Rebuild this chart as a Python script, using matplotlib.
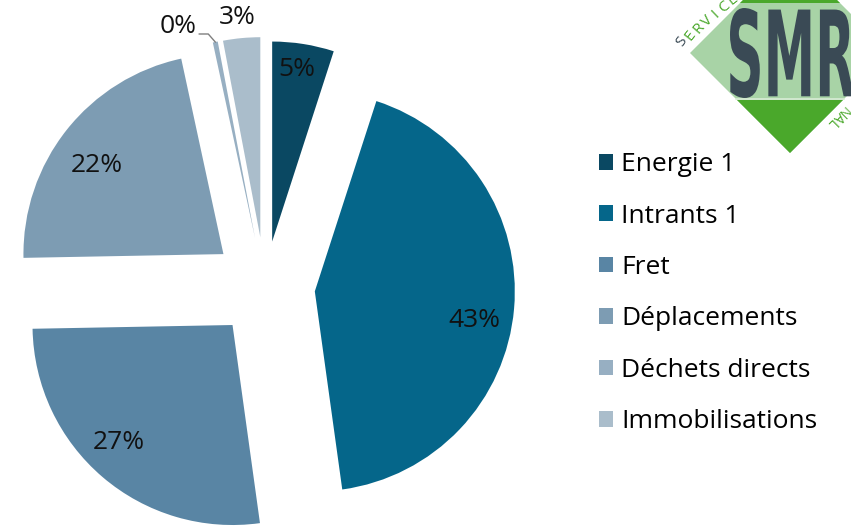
import matplotlib
matplotlib.use('Agg')
import numpy as np
import matplotlib.pyplot as plt
from matplotlib.patches import Polygon, PathPatch
from matplotlib.textpath import TextPath
from matplotlib.font_manager import FontProperties
from matplotlib.transforms import Affine2D

labels = ['Energie 1', 'Intrants 1', 'Fret', 'Déplacements', 'Déchets directs', 'Immobilisations']
values = [5.0, 43.0, 27.0, 22.0, 0.4, 3.0]
colors = ['#0a4862', '#05668a', '#5985a4', '#7d9cb3', '#97afc2', '#aabdcb']

plt.rcParams['font.family'] = ['Open Sans', 'DejaVu Sans']

fig = plt.figure(figsize=(8.51, 5.31), dpi=100)
ax = fig.add_axes([0, 0, 1, 1])

# pie drawn in pixel-like data units (y up)
cx, cy, r = 265, 244, 200
explode = [46, 50, 50, 53, 50, 50]
wedges, _ = ax.pie(values, colors=colors, startangle=90, counterclock=False,
                   center=(cx, cy), radius=r, explode=explode, frame=True)
ax.set_xlim(0, 851)
ax.set_ylim(0, 531)
ax.axis('off')

total = sum(values)
label_dist = [0.86, 0.8, 0.8, 0.79, None, 1.11]
label_nudge = [(-2, 2), (0, -15), (-10, 4), (-3, -9), None, (-2, -1)]
for w, v, f, nd in zip(wedges, values, label_dist, label_nudge):
    th = np.deg2rad((w.theta1 + w.theta2) / 2)
    x0, y0 = w.center
    txt = '%d%%' % round(100 * v / total)
    if f is None:
        # tiny slice: label with leader line
        tx, ty = x0 + r * np.cos(th), y0 + r * np.sin(th)
        ax.plot([tx, tx - 7, tx - 16], [ty, ty + 8, ty + 8], color='#7f7f7f', lw=1)
        ax.text(tx - 19, ty + 15, txt, ha='right', va='center', fontsize=19, color='#111111')
        continue
    ax.text(x0 + f * r * np.cos(th) + nd[0], y0 + f * r * np.sin(th) + nd[1], txt,
            ha='center', va='center', fontsize=19, color='#111111')

ax.legend(wedges, labels, loc='upper left', bbox_to_anchor=(586 / 851, 1 - 139 / 531),
          frameon=False, fontsize=19, handlelength=0.53, handleheight=0.53,
          handletextpad=0.3, labelspacing=1.0, borderpad=0)

# logo (top right)
light_g, dark_g, slate = '#a8d3a6', '#4aa82b', '#3a4a55'
ax.add_patch(Polygon([(690, 478), (790, 578), (890, 478), (790, 378)], closed=True,
                     fc=light_g, ec='none', zorder=3))
ax.add_patch(Polygon([(737, 431), (843, 431), (790, 378)], closed=True,
                     fc=dark_g, ec='none', zorder=4))
ax.add_patch(Polygon([(740, 528), (840, 528), (790, 578)], closed=True,
                     fc=dark_g, ec='none', zorder=4))
ax.plot([736, 844], [432, 432], color='#d9ecd6', lw=1.2, zorder=4)

tp = TextPath((0, 0), 'SMR', size=1, prop=FontProperties(family='DejaVu Sans', weight='bold'))
ext = tp.get_extents()
tr = Affine2D().translate(-ext.x0, -ext.y0).scale(124 / ext.width, 90 / ext.height).translate(730, 433)
ax.add_patch(PathPatch(tr.transform_path(tp), fc=slate, ec='none', zorder=5))

# curved "SERVICE" along the upper-left edge
word = 'SERVICE'
xs = np.linspace(682, 733, len(word))
ys = 531 - np.linspace(42, 0, len(word))
rots = np.linspace(55, 38, len(word))
for i, ch in enumerate(word):
    ax.text(xs[i], ys[i], ch, color=slate if i == 0 else dark_g, fontsize=11,
            rotation=rots[i], ha='center', va='center', zorder=5)
ax.text(837, 414, 'NAL', color=dark_g, fontsize=10, rotation=-135, ha='center', va='center', zorder=5)

fig.savefig('out.png', dpi=100)
